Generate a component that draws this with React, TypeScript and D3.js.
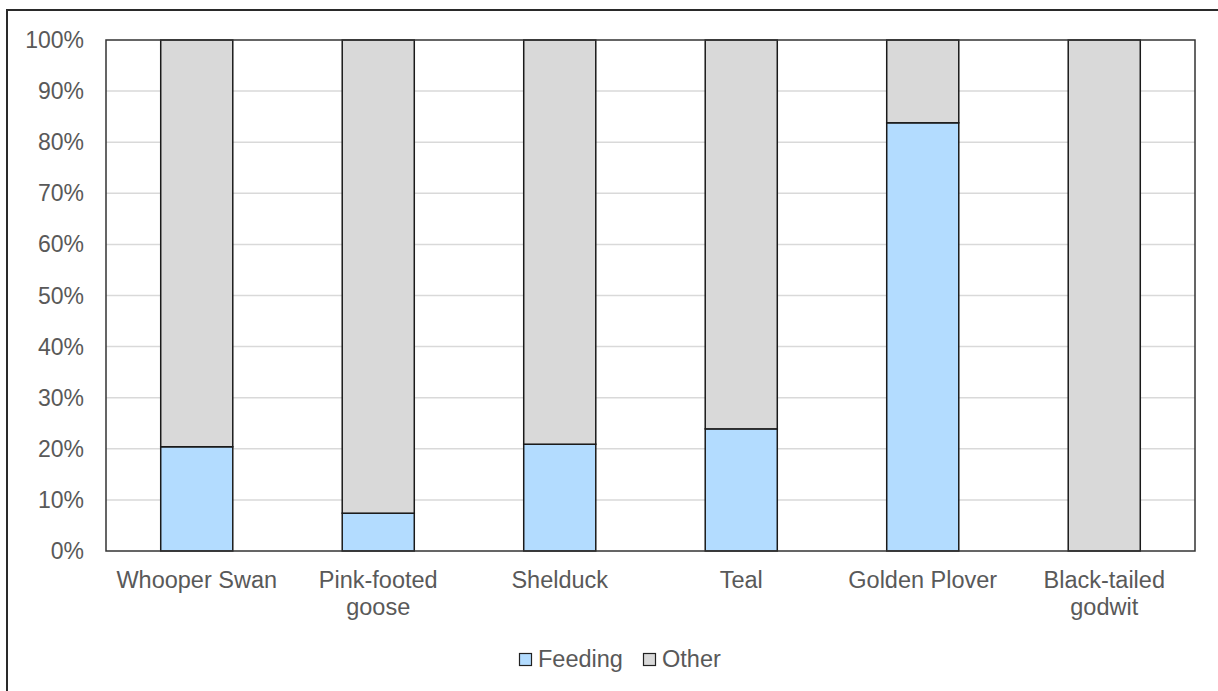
import React from "react";
import * as d3 from "d3";

const categories: string[][] = [
  ["Whooper Swan"],
  ["Pink-footed", "goose"],
  ["Shelduck"],
  ["Teal"],
  ["Golden Plover"],
  ["Black-tailed", "godwit"],
];
const feeding: number[] = [0.204, 0.074, 0.209, 0.239, 0.838, 0];
const other: number[] = feeding.map((f) => 1 - f);
const yTicks: number[] = [0, 0.1, 0.2, 0.3, 0.4, 0.5, 0.6, 0.7, 0.8, 0.9, 1];
const seriesNames = ["Feeding", "Other"];
const seriesColors = ["#b3dcff", "#d9d9d9"];

const W = 1218;
const H = 691;
const plot = { left: 106, right: 1195, top: 40, bottom: 551 };
const FONT = "Liberation Sans, Arial, sans-serif";
const TEXT = "#595959";

export default function App() {
  const keys = categories.map((c) => c.join(" "));
  const x = d3
    .scaleBand<string>()
    .domain(keys)
    .range([plot.left, plot.right])
    .paddingInner(0.603)
    .paddingOuter(0.3015);
  const y = d3.scaleLinear().domain([0, 1]).range([plot.bottom, plot.top]);
  const pct = d3.format(".0%");

  const rows = keys.map((k, i) => ({ key: k, Feeding: feeding[i], Other: other[i] }));
  const stack = d3.stack<any>().keys(seriesNames)(rows);

  return (
    <div style={{ position: "absolute", left: 0, top: 0, width: W, height: H, overflow: "hidden" }}>
      <svg width={W} height={H} style={{ display: "block" }}>
        <rect x={0} y={0} width={W} height={H} fill="#fff" />
        {/* chart frame, running off the right and bottom edges */}
        <path d={`M${W + 5},10 H7 V${H + 5}`} fill="none" stroke="#2a2a2a" strokeWidth={2} />
        {yTicks.map((t) => (
          <g key={t}>
            {t > 0 && t < 1 && (
              <line x1={plot.left} x2={plot.right} y1={y(t)} y2={y(t)} stroke="#d9d9d9" strokeWidth={1.5} />
            )}
            <text
              x={84}
              y={y(t)}
              dy="0.35em"
              textAnchor="end"
              fontFamily={FONT}
              fontSize={23}
              fill={TEXT}
            >
              {pct(t)}
            </text>
          </g>
        ))}
        {stack.map((s, si) =>
          s.map((d, i) => {
            const h = y(d[0]) - y(d[1]);
            if (h <= 0) return null;
            return (
              <rect
                key={`${si}-${i}`}
                x={x(keys[i])!}
                y={y(d[1])}
                width={x.bandwidth()}
                height={h}
                fill={seriesColors[si]}
                stroke="#1a1a1a"
                strokeWidth={1.5}
              />
            );
          })
        )}
        <rect
          x={plot.left}
          y={plot.top}
          width={plot.right - plot.left}
          height={plot.bottom - plot.top}
          fill="none"
          stroke="#333"
          strokeWidth={1.5}
        />
        {categories.map((lines, i) => (
          <text
            key={i}
            x={x(keys[i])! + x.bandwidth() / 2}
            y={588}
            textAnchor="middle"
            fontFamily={FONT}
            fontSize={23.5}
            fill={TEXT}
          >
            {lines.map((l, j) => (
              <tspan key={j} x={x(keys[i])! + x.bandwidth() / 2} dy={j === 0 ? 0 : 26.5}>
                {l}
              </tspan>
            ))}
          </text>
        ))}
        <g>
          {seriesNames.map((n, i) => {
            const lx = [519, 643][i];
            return (
              <g key={n}>
                <rect x={lx + 0.5} y={653.5} width={12} height={12} fill={seriesColors[i]} stroke="#222" strokeWidth={1.2} />
                <text x={lx + 19} y={659} dy="0.35em" fontFamily={FONT} fontSize={23.5} fill={TEXT}>
                  {n}
                </text>
              </g>
            );
          })}
        </g>
      </svg>
    </div>
  );
}
